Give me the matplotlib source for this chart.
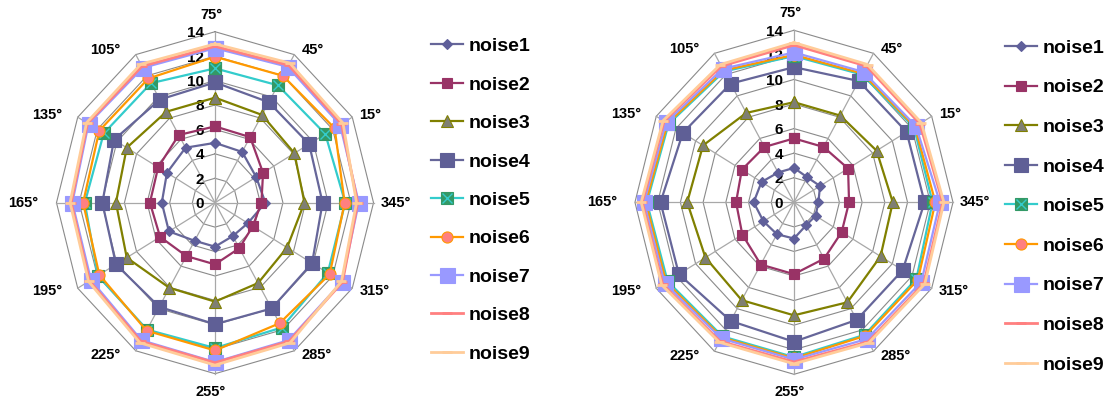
import numpy as np
import matplotlib
matplotlib.use("Agg")
import matplotlib.pyplot as plt
from matplotlib.legend_handler import HandlerTuple

# Wind directions (degrees) in the order they appear round the chart
directions = [75, 45, 15, 345, 315, 285, 255, 225, 195, 165, 135, 105]
direction_labels = [f"{d}°" for d in directions]
r_ticks = [0, 2, 4, 6, 8, 10, 12, 14]
series_names = ["noise1", "noise2", "noise3", "noise4", "noise5",
                "noise6", "noise7", "noise8", "noise9"]

# Left chart
left_noise1 = [4.9, 4.8, 4.2, 4.45, 3.35, 3.15, 3.6, 3.6, 4.7, 4.7, 4.9, 5.2]
left_noise2 = [6.25, 6.2, 4.9, 4.1, 3.85, 4.3, 5.05, 5.05, 5.6, 5.75, 5.8, 6.4]
left_noise3 = [8.6, 8.3, 8.1, 7.9, 7.35, 7.6, 8.1, 8.05, 9.0, 8.75, 9.0, 8.6]
left_noise4 = [9.85, 9.5, 9.6, 9.5, 9.9, 10.0, 9.95, 9.85, 10.1, 9.95, 10.3, 9.75]
left_noise5 = [11.0, 11.1, 11.25, 11.5, 11.5, 11.8, 11.9, 12.0, 11.95, 11.5, 11.35, 11.3]
left_noise6 = [11.95, 12.0, 12.2, 11.45, 11.7, 11.4, 12.1, 12.1, 11.8, 11.65, 11.8, 11.75]
left_noise7 = [12.65, 12.85, 12.75, 12.7, 12.95, 13.0, 13.05, 13.0, 12.65, 12.6, 12.9, 12.75]
left_noise8 = [12.8, 13.0, 12.9, 12.6, 13.0, 13.1, 13.1, 13.1, 12.8, 12.7, 13.0, 12.9]
left_noise9 = [13.0, 13.2, 13.05, 12.5, 12.9, 13.25, 13.3, 13.25, 12.9, 12.8, 13.1, 13.1]

# Right chart
right_noise1 = [2.8, 2.35, 2.65, 2.15, 2.2, 2.15, 2.95, 3.0, 3.1, 3.55, 3.3, 2.8]
right_noise2 = [5.2, 5.2, 5.5, 4.85, 4.85, 5.3, 5.85, 5.85, 5.25, 5.1, 5.3, 5.2]
right_noise3 = [8.15, 8.15, 8.4, 8.7, 8.8, 9.4, 9.2, 9.2, 9.0, 9.4, 9.25, 8.4]
right_noise4 = [11.0, 11.4, 11.45, 11.5, 11.05, 11.05, 11.35, 11.15, 11.7, 11.75, 11.3, 11.15]
right_noise5 = [11.9, 12.0, 12.2, 12.2, 12.45, 12.45, 12.6, 12.6, 12.85, 12.95, 12.75, 12.3]
right_noise6 = [12.0, 12.1, 12.3, 12.45, 12.6, 12.55, 12.7, 12.7, 13.0, 13.05, 12.85, 12.4]
right_noise7 = [12.2, 12.25, 12.4, 12.85, 12.95, 12.85, 12.8, 12.8, 13.15, 13.2, 13.0, 12.55]
right_noise8 = [12.8, 12.8, 12.8, 13.1, 13.2, 13.1, 13.0, 13.05, 13.35, 13.35, 13.2, 12.8]
right_noise9 = [13.0, 12.95, 12.95, 13.2, 13.3, 13.2, 13.15, 13.15, 13.45, 13.45, 13.3, 12.95]

left_series = [left_noise1, left_noise2, left_noise3, left_noise4, left_noise5,
               left_noise6, left_noise7, left_noise8, left_noise9]
right_series = [right_noise1, right_noise2, right_noise3, right_noise4, right_noise5,
                right_noise6, right_noise7, right_noise8, right_noise9]

# line colour, marker, marker size, face colour, edge colour, line width
styles = {
    "noise1": dict(color="#666699", marker="D", ms=5.5, mfc="#5f5f9a", mec="#5f5f9a", lw=1.6),
    "noise2": dict(color="#993366", marker="s", ms=7.2, mfc="#993366", mec="#993366", lw=1.6),
    "noise3": dict(color="#808000", marker="^", ms=8.0, mfc="#7f7f73", mec="#808000", lw=1.6),
    "noise4": dict(color="#666699", marker="s", ms=10.0, mfc="#5f5f96", mec="#5f5f96", lw=1.6),
    "noise5": dict(color="#33cccc", marker="s", ms=9.3, mfc="#339966", mec="#339966", lw=1.6),
    "noise6": dict(color="#ff9900", marker="o", ms=8.0, mfc="#ff8080", mec="#ff9900", lw=1.6),
    "noise7": dict(color="#9999ff", marker="s", ms=10.8, mfc="#9999ff", mec="#9999ff", lw=1.6),
    "noise8": dict(color="#ff8080", marker="_", ms=7.0, mfc="#ff8080", mec="#ff8080", lw=2.0),
    "noise9": dict(color="#ffcc99", marker="_", ms=7.0, mfc="#ffcc99", mec="#ffcc99", lw=2.0),
}

FONT = "Liberation Sans"
fig = plt.figure(figsize=(11.12, 4.05), dpi=100)
fig.patch.set_facecolor("white")


def draw_radar(rect, values, legend_xy, legend_spacing):
    ax = fig.add_axes(rect, projection="polar")
    ax.set_aspect("auto")
    ax.set_theta_offset(np.deg2rad(15))
    ax.set_ylim(0, r_ticks[-1])
    ax.grid(False)
    ax.spines["polar"].set_visible(False)
    ax.patch.set_visible(False)
    ax.set_xticks([])
    ax.set_yticks([])

    theta = np.deg2rad(directions)
    closed_theta = np.append(theta, theta[0])

    # polygonal grid rings and spokes
    for r in r_ticks[1:]:
        ax.plot(closed_theta, [r] * len(closed_theta), color="#8a8a8a",
                lw=0.8, zorder=1, clip_on=False)
    for t in theta:
        ax.plot([t, t], [0, r_ticks[-1]], color="#a8a8a8", lw=0.9,
                zorder=1, clip_on=False)

    # radial tick labels along the 75° spoke
    for v in r_ticks:
        ax.annotate(str(v), xy=(theta[0], v), xytext=(-11, -1.5),
                    textcoords="offset pixels", ha="right", va="center",
                    fontsize=11, fontweight="bold", family=FONT, zorder=2)

    # direction labels round the outside
    for t, d, lab in zip(theta, directions, direction_labels):
        a = np.deg2rad(d + 15)
        c, s = np.cos(a), np.sin(a)
        if abs(c) < 0.1:
            ha, dx, dy = "center", -4, 17 if s > 0 else -18
        elif c > 0:
            ha, dx, dy = "left", 7, 5 * s
        else:
            ha, dx, dy = "right", (-18 if abs(s) < 0.1 else -15), 5 * s
        ax.annotate(lab, xy=(t, r_ticks[-1]), xytext=(dx, dy),
                    textcoords="offset pixels", ha=ha, va="center",
                    fontsize=10.5, fontweight="bold", family=FONT,
                    annotation_clip=False)

    handles = []
    for name, vals in zip(series_names, values):
        st = styles[name]
        closed_vals = np.append(vals, vals[0])
        line, = ax.plot(closed_theta, closed_vals, color=st["color"],
                        lw=st["lw"], marker=st["marker"], ms=st["ms"],
                        mfc=st["mfc"], mec=st["mec"],
                        mew=2.0 if st["marker"] == "_" else 0.8,
                        zorder=3, clip_on=False, label=name)
        if name == "noise5":
            cross, = ax.plot(theta, vals, ls="none", marker="x", ms=7.0,
                             mec="#33cccc", mew=1.0, zorder=3, clip_on=False)
            handles.append((line, cross))
        else:
            handles.append(line)

    fig.legend(handles, series_names, loc="upper left",
               bbox_to_anchor=legend_xy, bbox_transform=fig.transFigure,
               frameon=False, prop=dict(family=FONT, weight="bold", size=14),
               handlelength=1.62, handletextpad=0.3,
               labelspacing=legend_spacing, borderpad=0, borderaxespad=0,
               handler_map={tuple: HandlerTuple(ndivide=1, pad=0)})
    return ax


draw_radar([0.0508, 0.0773, 0.2851, 0.8444], left_series, (0.388, 0.907), 1.07)
draw_radar([0.5710, 0.0758, 0.2860, 0.8494], right_series, (0.9038, 0.903), 1.13)

fig.savefig("out.png", dpi=100, facecolor="white")
